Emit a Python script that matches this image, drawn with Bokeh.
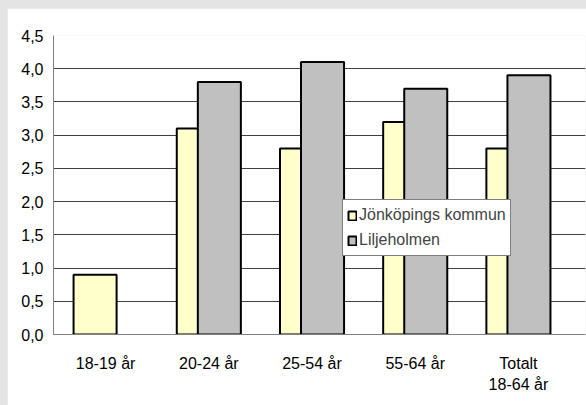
import numpy as np
from bokeh.plotting import figure
from bokeh.layouts import column, row
from bokeh.models import (ColumnDataSource, Range1d, FixedTicker, CustomJSTickFormatter,
                          LinearAxis, Legend, LegendItem, Spacer)
from bokeh.transform import dodge
from bokeh.embed import file_html
from bokeh.resources import INLINE

# ---- data ----
categories = ["18-19 år", "20-24 år", "25-54 år", "55-64 år", "Totalt"]
categories_line2 = ["", "", "", "", "18-64 år"]
jonkoping = [0.9, 3.1, 2.8, 3.2, 2.8]
liljeholmen = [np.nan, 3.8, 4.1, 3.7, 3.9]
y_ticks = [0.0, 0.5, 1.0, 1.5, 2.0, 2.5, 3.0, 3.5, 4.0, 4.5]

FONT = "Liberation Sans"

src = ColumnDataSource(dict(x=list(range(len(categories))), j=jonkoping, l=liljeholmen))

p = figure(width=579, height=397, output_backend="svg", toolbar_location=None,
           x_range=Range1d(-0.505, 4.65), y_range=Range1d(0, 4.5),
           min_border_left=46, min_border_right=1, min_border_top=27, min_border_bottom=71,
           x_axis_location=None)
p.outline_line_color = None
p.background_fill_color = "white"
p.border_fill_color = "white"

rj = p.vbar(x=dodge("x", -0.102), top="j", bottom=0, width=0.417, source=src,
            fill_color="#FFFFCC", line_color="black", line_width=2)
rl = p.vbar(x=dodge("x", 0.102), top="l", bottom=0, width=0.417, source=src,
            fill_color="#C0C0C0", line_color="black", line_width=2)

ya = p.yaxis[0]
ya.ticker = FixedTicker(ticks=y_ticks)
ya.formatter = CustomJSTickFormatter(code="return tick.toFixed(1).replace('.', ',');")
ya.major_tick_in = 0
ya.major_tick_out = 0
ya.minor_tick_in = 0
ya.minor_tick_out = 0
ya.axis_line_color = "#808080"
ya.major_label_standoff = 10
ya.major_label_text_font = FONT
ya.major_label_text_font_size = "16px"
ya.major_label_text_color = "black"

p.ygrid.ticker = FixedTicker(ticks=y_ticks)
p.ygrid.grid_line_color = "#404040"
p.ygrid.grid_line_width = 1
p.xgrid.grid_line_color = None

def make_xaxis(labels, standoff, line_color):
    ax = LinearAxis(ticker=FixedTicker(ticks=list(range(len(labels)))),
                    major_label_overrides={i: t for i, t in enumerate(labels)})
    ax.major_tick_in = 0
    ax.major_tick_out = 0
    ax.minor_tick_in = 0
    ax.minor_tick_out = 0
    ax.axis_line_color = line_color
    ax.major_label_standoff = standoff
    ax.major_label_text_font = FONT
    ax.major_label_text_font_size = "16px"
    ax.major_label_text_color = "black"
    return ax

xa1 = make_xaxis(categories, 20, "#808080")
xa2 = make_xaxis(categories_line2, 1, None)
p.add_layout(xa1, "below")
p.add_layout(xa2, "below")

legend = Legend(items=[LegendItem(label="Jönköpings kommun", renderers=[rj]),
                       LegendItem(label="Liljeholmen", renderers=[rl])],
                location=(289, 78), margin=0, padding=4, spacing=3,
                glyph_width=10, glyph_height=11, label_height=22, label_standoff=2,
                label_text_font=FONT, label_text_font_size="16px",
                border_line_color="black", border_line_width=1,
                background_fill_color="white", background_fill_alpha=1.0)
p.add_layout(legend, "center")

layout = column(Spacer(width=586, height=8), row(Spacer(width=7, height=397), p))

html = file_html(layout, INLINE)
html = html.replace("</head>", "<style>html,body{background-color:#e4e4e4 !important;}</style></head>", 1)
open("out.html", "w").write(html)
